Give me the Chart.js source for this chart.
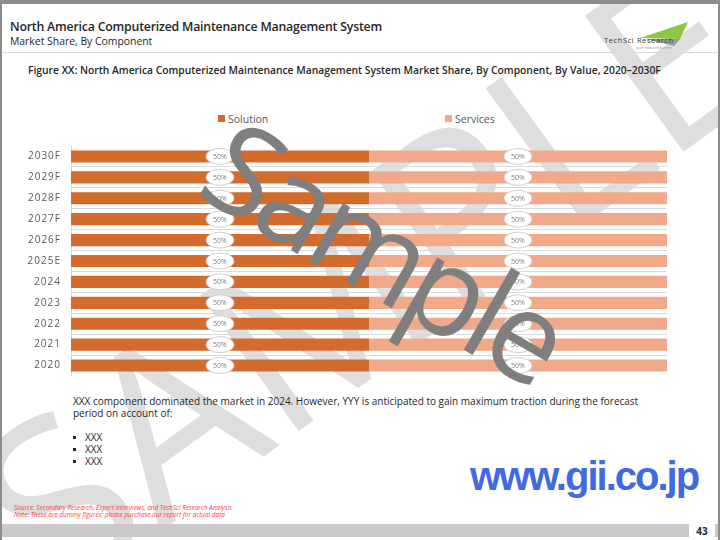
<!DOCTYPE html>
<html lang="en">
<head>
<meta charset="UTF-8">
<title>North America CMMS Market Share, By Component</title>
<script src="https://cdn.jsdelivr.net/npm/chart.js"></script>
<style>
  html, body { margin: 0; padding: 0; background: #fff; }
  #page { position: relative; width: 720px; height: 540px; overflow: hidden; font-family: "Open Sans", sans-serif; background: #fff; }
  .abs { position: absolute; white-space: nowrap; }
  #frame { position: absolute; left: 0; top: 0; width: 716px; height: 536px; border: 2px solid #8c8c8c; border-top-width: 4px; border-bottom: none; z-index: 6; pointer-events: none; }
  #headLine { position: absolute; left: 0; top: 52px; width: 720px; height: 1px; background: #d9d9d9; }
  #title { left: 10px; top: 18px; font-size: 12.3px; font-weight: 600; color: #262626; letter-spacing: -0.2px; }
  #subtitle { left: 10px; top: 34px; font-size: 10.4px; color: #262626; }
  #figTitle { left: 28px; top: 63px; font-size: 10.3px; font-weight: 600; color: #262626; }
  #wmLight { left: 360px; top: 275px; font-size: 235px; color: #dedede; transform: translate(-50%, -50%) rotate(-36deg); z-index: 0; line-height: 1; }
  #wmDark { left: 386px; top: 249px; font-size: 125px; font-weight: 500; letter-spacing: -7px; color: #7f7f7f; transform: translate(-50%, -50%) rotate(30deg); z-index: 5; line-height: 1; }
  #chartBox { position: absolute; left: 0; top: 146px; width: 667px; height: 230px; z-index: 1; }
  .leg { font-size: 10.5px; color: #595959; z-index: 1; }
  .leg i { display: inline-block; width: 7px; height: 7px; margin-right: 3px; vertical-align: 1px; }
  #para { left: 73px; top: 395px; font-size: 10px; color: #262626; line-height: 12px; z-index: 1; }
  .bul { font-size: 10px; color: #262626; z-index: 1; }
  .bul b { display: inline-block; width: 3px; height: 3px; background: #262626; margin-right: 9px; vertical-align: 2px; }
  #gii { left: 470px; top: 454px; font-family: "Liberation Sans", Arial, sans-serif; font-weight: 700; font-size: 40px; letter-spacing: -2px; color: #4169e1; z-index: 1; }
  .src { left: 14px; font-size: 6.4px; font-style: italic; color: #ff3b3b; z-index: 1; }
  #footer { position: absolute; left: 0; top: 524px; width: 720px; height: 13px; background: #c9c9c9; z-index: 2; }
  #pageNo { position: absolute; left: 689px; top: 522px; width: 26px; height: 18px; background: #fff; font-size: 10px; font-weight: 700; color: #262626; text-align: center; line-height: 18px; z-index: 3; }
  #logoText { left: 604px; top: 35px; font-size: 7.5px; letter-spacing: 0.6px; color: #3a3a3a; z-index: 1; }
  #logoTag { left: 636px; top: 45px; font-size: 3.5px; color: #888; z-index: 1; }
</style>
</head>
<body>
<div id="page">
  <div id="wmLight" class="abs">SAMPLE</div>
  <div id="headLine"></div>
  <div id="title" class="abs">North America Computerized Maintenance Management System</div>
  <div id="subtitle" class="abs">Market Share, By Component</div>
  <svg class="abs" style="left:600px;top:18px;z-index:1" width="100" height="36">
    <polygon points="40,20 88,4 80,21" fill="#8dc63f"/>
    <polygon points="46,21 80,21 74,28" fill="#9a9a9a"/>
  </svg>
  <div id="logoText" class="abs">TechSci Research</div>
  <div id="logoTag" class="abs">your research partner</div>
  <div id="figTitle" class="abs">Figure XX: North America Computerized Maintenance Management System Market Share, By Component, By Value, 2020–2030F</div>

  <div class="abs leg" style="left:218px;top:112px"><i style="background:#d26b2b"></i>Solution</div>
  <div class="abs leg" style="left:445px;top:112px"><i style="background:#f0a98a"></i>Services</div>

  <div id="chartBox"><canvas id="shareChart"></canvas></div>

  <div id="para" class="abs">XXX component dominated the market in 2024. However, YYY is anticipated to gain maximum traction during the forecast<br>period on account of:</div>
  <div class="abs bul" style="left:73px;top:430px"><b></b>XXX</div>
  <div class="abs bul" style="left:73px;top:442px"><b></b>XXX</div>
  <div class="abs bul" style="left:73px;top:454px"><b></b>XXX</div>

  <div id="gii" class="abs">www.gii.co.jp</div>

  <div class="abs src" style="top:503px">Source: Secondary Research, Expert Interviews, and TechSci Research Analysis</div>
  <div class="abs src" style="top:510px">Note: These are dummy figures; please purchase our report for actual data</div>

  <div id="footer"></div>
  <div id="pageNo">43</div>
  <div id="wmDark" class="abs">Sample</div>
  <div id="frame"></div>
</div>

<script>
  // values (bottom row first)
  const years = ['2020', '2021', '2022', '2023', '2024', '2025E', '2026F', '2027F', '2028F', '2029F', '2030F'];
  const solutionShare = [50, 50, 50, 50, 50, 50, 50, 50, 50, 50, 50];
  const servicesShare = [50, 50, 50, 50, 50, 50, 50, 50, 50, 50, 50];

  // spaced-out year labels like the original slide
  const spacedTicks = {
    id: 'spacedTicks',
    beforeDraw(chart) { chart.ctx.letterSpacing = '1px'; }
  };

  // white oval with the share written in the middle of each segment
  const ovalLabels = {
    id: 'ovalLabels',
    afterDatasetsDraw(chart) {
      const ctx = chart.ctx;
      chart.data.datasets.forEach((ds, i) => {
        chart.getDatasetMeta(i).data.forEach((bar, j) => {
          const p = bar.getProps(['x', 'y', 'base'], true);
          const cx = (p.x + p.base) / 2;
          ctx.save();
          ctx.letterSpacing = '0px';
          ctx.beginPath();
          ctx.ellipse(cx, p.y, 14, 8, 0, 0, Math.PI * 2);
          ctx.fillStyle = '#ffffff';
          ctx.fill();
          ctx.strokeStyle = '#d0d0d0';
          ctx.lineWidth = 1;
          ctx.stroke();
          ctx.fillStyle = '#7f7f7f';
          ctx.font = '7px "Open Sans"';
          ctx.textAlign = 'center';
          ctx.textBaseline = 'middle';
          ctx.fillText(ds.data[j] + '%', cx, p.y + 0.5);
          ctx.restore();
        });
      });
    }
  };

  new Chart(document.getElementById('shareChart'), {
    type: 'bar',
    data: {
      labels: years,
      datasets: [
        { label: 'Solution', data: solutionShare, backgroundColor: '#d26b2b', barPercentage: 0.58, categoryPercentage: 1 },
        { label: 'Services', data: servicesShare, backgroundColor: '#f0a98a', barPercentage: 0.58, categoryPercentage: 1 }
      ]
    },
    options: {
      indexAxis: 'y',
      responsive: true,
      maintainAspectRatio: false,
      animation: false,
      layout: { padding: 0 },
      plugins: { legend: { display: false }, tooltip: { enabled: false } },
      scales: {
        x: { stacked: true, min: 0, max: 100, display: false },
        y: {
          stacked: true,
          reverse: true,
          afterFit: s => { s.width = 71; s.paddingTop = 0; s.paddingBottom = 0; },
          border: { color: '#d9d9d9' },
          grid: { color: '#d9d9d9', drawTicks: false },
          ticks: { color: '#595959', padding: 10, font: { family: 'Open Sans', size: 10 } }
        }
      }
    },
    plugins: [spacedTicks, ovalLabels]
  });
</script>
</body>
</html>
